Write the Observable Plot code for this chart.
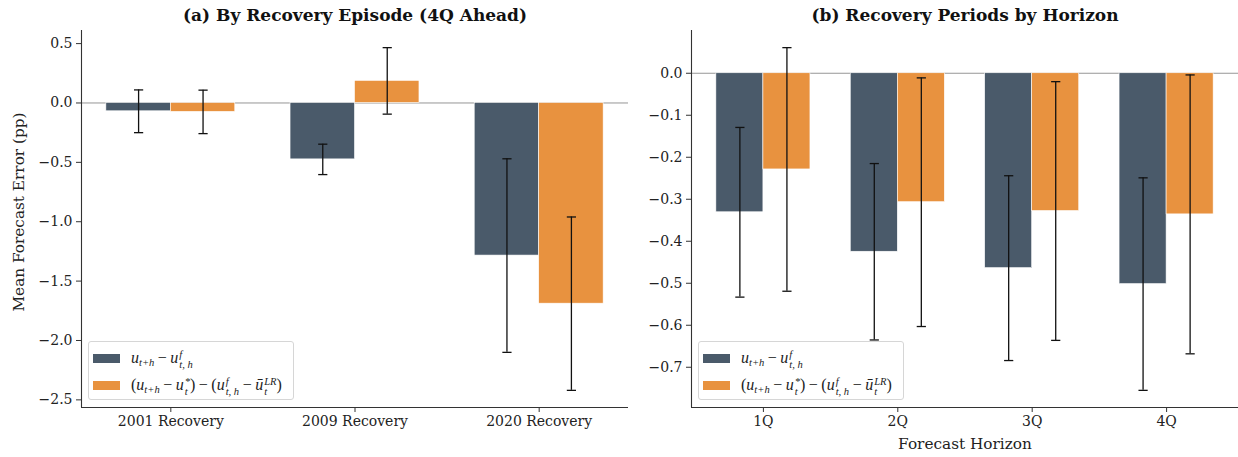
<!DOCTYPE html>
<html>
<head>
<meta charset="utf-8">
<script src="https://cdn.jsdelivr.net/npm/d3@7"></script>
<script src="https://cdn.jsdelivr.net/npm/@observablehq/plot@0.6"></script>
<style>
  html, body { margin: 0; padding: 0; background: #fff; }
  #wrap { position: relative; width: 1238px; height: 457px; overflow: hidden; }
  .panel { position: absolute; top: 0; }
  .legend {
    position: absolute; top: 341px; width: 206px; height: 59px;
    border: 1px solid #d6d6d6; border-radius: 3px; background: rgba(255,255,255,0.85);
    box-sizing: border-box;
  }
  .legend .row { position: absolute; left: 0; height: 20px; width: 100%; }
  .legend .sw { position: absolute; left: 4px; top: 6px; width: 27px; height: 9px; }
  .legend .lab {
    position: absolute; left: 42px; top: 0; white-space: nowrap;
    font-family: "Liberation Serif", serif; font-size: 16px; line-height: 20px; color: #222;
  }
  .lab i { font-style: italic; }
  .lab sub { font-style: italic; font-size: 0.66em; line-height: 1; vertical-align: -0.3em; }
  .lab .ss {
    display: inline-flex; flex-direction: column; vertical-align: 0.5em;
    font-size: 0.66em; line-height: 0.95; font-style: italic; margin-left: 1px;
  }
  .lab .ss span { display: block; }
  .lab .op { margin: 0 3.5px; font-style: normal; }
</style>
</head>
<body>
<div id="wrap">
  <div id="pa" class="panel" style="left:0"></div>
  <div id="pb" class="panel" style="left:630px"></div>
</div>
<script>
// Mean forecast errors (pp) and error-bar half widths.
const episodes = ["2001 Recovery", "2009 Recovery", "2020 Recovery"];
const episodeRaw = [-0.070, -0.475, -1.285];
const episodeRawErr = [0.180, 0.128, 0.815];
const episodeAdj = [-0.075, 0.186, -1.690];
const episodeAdjErr = [0.183, 0.280, 0.730];

const horizons = ["1Q", "2Q", "3Q", "4Q"];
const horizonRaw = [-0.331, -0.425, -0.464, -0.502];
const horizonRawErr = [0.202, 0.210, 0.220, 0.253];
const horizonAdj = [-0.229, -0.307, -0.328, -0.336];
const horizonAdjErr = [0.290, 0.296, 0.308, 0.332];

const yTicksA = [0.5, 0.0, -0.5, -1.0, -1.5, -2.0, -2.5];
const yTicksB = [0.0, -0.1, -0.2, -0.3, -0.4, -0.5, -0.6, -0.7];

const seriesNames = ["raw", "adjusted"];
const seriesColors = ["#4a5a6a", "#e8923f"];
const seriesLabels = [
  '<i>u</i><sub>t+h</sub><span class="op">−</span><i>u</i><span class="ss"><span>f</span><span>t, h</span></span>',
  '(<i>u</i><sub>t+h</sub><span class="op">−</span><i>u</i><span class="ss"><span>*</span><span>t</span></span>)<span class="op">−</span>(<i>u</i><span class="ss"><span>f</span><span>t, h</span></span><span class="op">−</span><i>ū</i><span class="ss"><span>LR</span><span>t</span></span>)'
];

const barWidth = 0.35;

function rows(values, errs, s) {
  return values.map((v, i) => ({
    i, series: seriesNames[s], v, err: errs[i],
    x1: s === 0 ? i - barWidth : i,
    x2: s === 0 ? i : i + barWidth,
    cx: s === 0 ? i - barWidth / 2 : i + barWidth / 2
  }));
}

// horizontal cap for the error bars
const capSymbol = {
  draw(ctx, size) {
    const w = Math.sqrt(size / Math.PI);
    ctx.moveTo(-w, 0);
    ctx.lineTo(w, 0);
  }
};

function panel({title, cats, data, yTicks, width, marginLeft, marginRight, ylabel, xlabel}) {
  const n = cats.length;
  const xspan = (n - 1) + 2 * barWidth;
  const xDomain = [-barWidth - 0.05 * xspan, n - 1 + barWidth + 0.05 * xspan];
  const lo = d3.min(data, d => Math.min(0, d.v, d.v - d.err));
  const hi = d3.max(data, d => Math.max(0, d.v, d.v + d.err));
  const pad = 0.05 * (hi - lo);
  const yDomain = [lo - pad, hi + pad];
  const marks = [
    Plot.ruleY([0], {stroke: "#8a8a8a", strokeWidth: 0.9}),
    Plot.rect(data, {
      x1: "x1", x2: "x2", y1: 0, y2: "v",
      fill: "series", stroke: "white", strokeWidth: 0.6
    }),
    Plot.ruleX(data, {x: "cx", y1: d => d.v - d.err, y2: d => d.v + d.err, stroke: "#111", strokeWidth: 1.3}),
    Plot.dot(data, {x: "cx", y: d => d.v - d.err, symbol: capSymbol, r: 4.6, fill: "none", stroke: "#111", strokeWidth: 1.3}),
    Plot.dot(data, {x: "cx", y: d => d.v + d.err, symbol: capSymbol, r: 4.6, fill: "none", stroke: "#111", strokeWidth: 1.3}),
    Plot.axisY({ticks: yTicks, tickFormat: d3.format(".1f"), tickSize: 5, tickPadding: 4, label: null, stroke: "#333"}),
    Plot.axisX({ticks: d3.range(n), tickFormat: i => cats[i], tickSize: 5, tickPadding: 4, label: null, stroke: "#333"}),
    Plot.ruleX([xDomain[0]], {stroke: "#333", strokeWidth: 1.1}),
    Plot.ruleY([yDomain[0]], {stroke: "#333", strokeWidth: 1.1}),
    Plot.text([title], {frameAnchor: "top", lineAnchor: "middle", dy: -15, fontWeight: "bold", fontSize: 17, fill: "#111"})
  ];
  if (ylabel) marks.push(Plot.text([ylabel], {
    frameAnchor: "left", textAnchor: "middle", lineAnchor: "middle", dx: -62, dy: -7, rotate: -90, fontSize: 15.3, fill: "#222"
  }));
  if (xlabel) marks.push(Plot.text([xlabel], {
    frameAnchor: "bottom", textAnchor: "middle", lineAnchor: "middle", dy: 37, fontSize: 15.3, fill: "#222"
  }));
  return Plot.plot({
    width, height: 457,
    marginLeft, marginRight, marginTop: 30, marginBottom: 50,
    style: {fontFamily: "DejaVu Serif", fontSize: "14px", color: "#222", background: "transparent"},
    x: {type: "linear", domain: xDomain},
    y: {domain: yDomain},
    color: {domain: seriesNames, range: seriesColors},
    marks
  });
}

function legend(container, left) {
  const box = document.createElement("div");
  box.className = "legend";
  box.style.left = left + "px";
  seriesNames.forEach((s, k) => {
    const row = document.createElement("div");
    row.className = "row";
    row.style.top = (6 + k * 27) + "px";
    row.innerHTML = `<div class="sw" style="background:${seriesColors[k]}"></div><div class="lab">${seriesLabels[k]}</div>`;
    box.appendChild(row);
  });
  container.appendChild(box);
}

const dataA = [...rows(episodeRaw, episodeRawErr, 0), ...rows(episodeAdj, episodeAdjErr, 1)];
const dataB = [...rows(horizonRaw, horizonRawErr, 0), ...rows(horizonAdj, horizonAdjErr, 1)];

document.getElementById("pa").appendChild(panel({
  title: "(a) By Recovery Episode (4Q Ahead)", cats: episodes, data: dataA, yTicks: yTicksA,
  width: 630, marginLeft: 81, marginRight: 2, ylabel: "Mean Forecast Error (pp)"
}));
document.getElementById("pb").appendChild(panel({
  title: "(b) Recovery Periods by Horizon", cats: horizons, data: dataB, yTicks: yTicksB,
  width: 608, marginLeft: 61, marginRight: 0, xlabel: "Forecast Horizon"
}));

const wrap = document.getElementById("wrap");
legend(wrap, 88);
legend(wrap, 698);
</script>
</body>
</html>
